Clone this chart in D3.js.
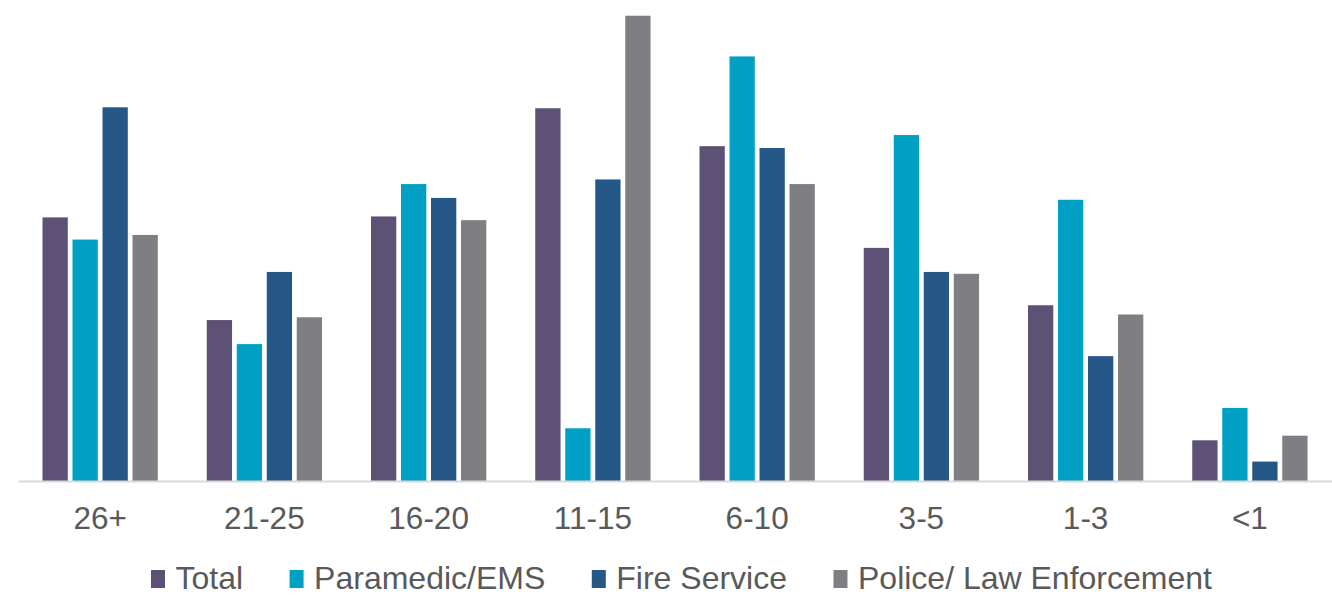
<!DOCTYPE html>
<html>
<head>
<meta charset="utf-8">
<script src="https://cdn.jsdelivr.net/npm/d3@7"></script>
<style>
  html, body { margin: 0; padding: 0; background: #ffffff; }
  svg { display: block; }
  text { font-family: "Liberation Sans", Arial, sans-serif; fill: #595959; }
</style>
</head>
<body>
<svg id="chart" width="1332" height="599"></svg>
<script>
// Years of service bands (x categories)
const categories = ["26+", "21-25", "16-20", "11-15", "6-10", "3-5", "1-3", "<1"];

// Share of respondents (%) in each band, per group
const seriesNames = ["Total", "Paramedic/EMS", "Fire Service", "Police/ Law Enforcement"];
const totalValues  = [14.25, 8.7, 14.3, 20.15, 18.1, 12.6, 9.5, 2.2];
const emsValues    = [13.05, 7.4, 16.05, 2.85, 22.95, 18.7, 15.2, 3.95];
const fireValues   = [20.2, 11.3, 15.3, 16.3, 18.0, 11.3, 6.75, 1.05];
const policeValues = [13.3, 8.85, 14.1, 25.15, 16.05, 11.2, 9.0, 2.45];
const colors = ["#5d5275", "#00a0c4", "#265887", "#7f7e83"];

const seriesValues = [totalValues, emsValues, fireValues, policeValues];
const rows = categories.map((c, i) => ({
  category: c,
  values: seriesNames.map((s, j) => ({ series: s, value: seriesValues[j][i] }))
}));

const svg = d3.select("#chart");

const plot = { left: 18, right: 1332, top: 0, bottom: 481 };

const x0 = d3.scaleBand()
  .domain(categories)
  .range([plot.left, plot.right])
  .padding(0);

const x1 = d3.scaleBand()
  .domain(seriesNames)
  .range([24.5, 139.8])
  .paddingInner(0.157)
  .paddingOuter(0);

const y = d3.scaleLinear()
  .domain([0, 26])
  .range([plot.bottom, plot.top]);

const color = d3.scaleOrdinal().domain(seriesNames).range(colors);

// Grouped bars
const groups = svg.append("g")
  .selectAll("g")
  .data(rows)
  .join("g")
  .attr("transform", d => `translate(${x0(d.category)},0)`);

groups.selectAll("rect")
  .data(d => d.values)
  .join("rect")
  .attr("x", d => x1(d.series))
  .attr("width", x1.bandwidth())
  .attr("y", d => y(d.value))
  .attr("height", d => y(0) - y(d.value))
  .attr("fill", d => color(d.series));

// Category axis: baseline and labels, no tick marks
const xAxis = d3.axisBottom(x0).tickSize(0).tickPadding(0);
const axisG = svg.append("g")
  .attr("transform", `translate(0,${plot.bottom})`)
  .call(xAxis);
axisG.select(".domain")
  .attr("stroke", "#d9d9d9")
  .attr("stroke-width", 2);
axisG.selectAll(".tick text")
  .attr("dy", null)
  .attr("y", 47.5)
  .style("font-family", '"Liberation Sans", Arial, sans-serif')
  .style("font-size", "31.5px")
  .attr("fill", "#595959");

// Legend along the bottom
const legend = svg.append("g").attr("class", "legend");
let lx = 151;
seriesNames.forEach((name, i) => {
  const item = legend.append("g");
  item.append("rect")
    .attr("x", lx)
    .attr("y", 570)
    .attr("width", 14)
    .attr("height", 18)
    .attr("fill", colors[i]);
  const t = item.append("text")
    .attr("x", lx + 24.5)
    .attr("y", 588.5)
    .style("font-size", "32px")
    .text(name);
  lx += 24.5 + t.node().getComputedTextLength() + 46.5;
});
</script>
</body>
</html>
